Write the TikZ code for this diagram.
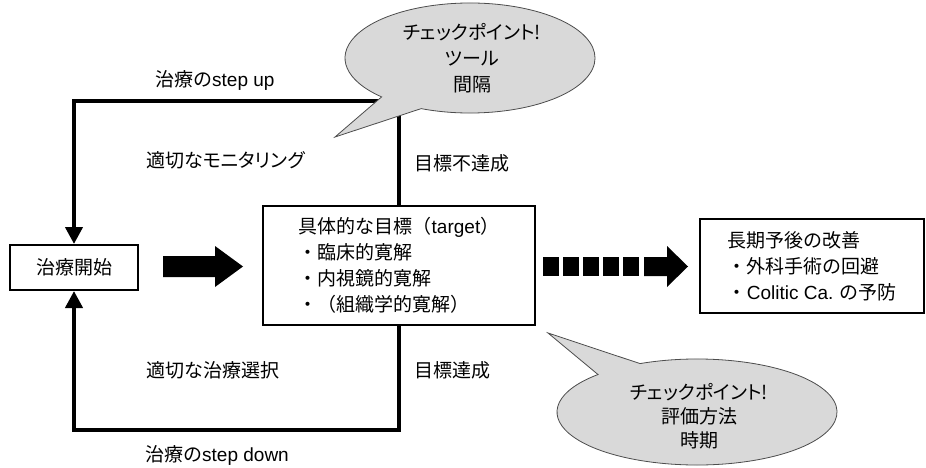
\documentclass[tikz,border=0pt]{standalone}
\usepackage{fontspec}
\setmainfont{Noto Sans CJK JP}
\newfontfamily\lat{Liberation Sans}
\newfontfamily\jpp[RawFeature=+palt]{Noto Sans CJK JP}
\usetikzlibrary{arrows.meta}
\definecolor{bubblefill}{HTML}{D9D9D9}
\definecolor{bubbleline}{HTML}{4D4D4D}
\begin{document}
\begin{tikzpicture}[x=1pt,y=1pt,
  txt/.style={font=\fontsize{19}{26}\selectfont, inner sep=0pt},
  ptxt/.style={font=\jpp\fontsize{19}{26}\selectfont, inner sep=0pt},
  box/.style={draw, line width=1.5pt, txt, align=left},
  loopline/.style={line width=4pt, -{Triangle[length=17pt,width=17pt]}},
  bubble/.style={fill=bubblefill, draw=bubbleline, line width=0.8pt},
  bigarrow/.style={fill=black},
]
\useasboundingbox (0,0) rectangle (926,-468);

% boxes
\node[box, line width=2pt, minimum width=128pt, minimum height=45pt, align=center] (start) at (74,-267.5) {治療開始};
\node[box, minimum width=272pt, minimum height=119pt] (target) at (399,-265.5)
  {具体的な目標（{\lat target}）\\・臨床的寛解\\・内視鏡的寛解\\・（組織学的寛解）};
\node[box, minimum width=224pt, minimum height=94pt] (goal) at (812,-266)
  {長期予後の改善\\・外科手術の回避\\・{\lat Colitic Ca.} の予防};

% labels
\node[txt, anchor=west] (stepup) at (155,-80) {治療の{\lat step up}};
\node[ptxt, anchor=west] (monitor) at (146,-160) {適切なモニタリング};
\node[txt, anchor=west] (notmet) at (414,-163) {目標不達成};
\node[txt, anchor=west] (select) at (146,-370) {適切な治療選択};
\node[txt, anchor=west] (met) at (414,-370) {目標達成};
\node[txt, anchor=west] (stepdown) at (145,-455) {治療の{\lat step down}};

% loops
\coordinate (topline) at (0,-101);
\coordinate (botline) at (0,-430);
\draw[loopline] (target.north) -- (target.north |- topline) -| (start.north);
\draw[loopline] (target.south) -- (target.south |- botline) -| (start.south);

% solid big arrow
\fill[bigarrow] (163,-256) -- (215,-256) -- (215,-246) -- (243,-266.5) -- (215,-287) -- (215,-277) -- (163,-277) -- cycle;

% dashed big arrow
\foreach \x in {543,563,583,603,623} \fill[bigarrow] (\x,-257) rectangle ++(16,-19);
\fill[bigarrow] (644,-257) -- (667,-257) -- (667,-246) -- (688,-266.5) -- (667,-287) -- (667,-276) -- (644,-276) -- cycle;

% top bubble
\coordinate (c1) at (470,-58);
\fill[bubblefill] (c1) ellipse[x radius=125pt, y radius=55pt];
\draw[bubble] (c1) ++(247:125pt and 55pt) arc[start angle=247, end angle=585, x radius=125pt, y radius=55pt] -- (335,-137) -- cycle;
\node[ptxt, align=center] (cp1) at (472,-58) {チェックポイント!\\ツール\\間隔};

% bottom bubble
\coordinate (c2) at (697,-412);
\fill[bubblefill] (c2) ellipse[x radius=140pt, y radius=53pt];
\draw[bubble] (c2) ++(114:140pt and 53pt) arc[start angle=114, end angle=-225, x radius=140pt, y radius=53pt] -- (548,-333) -- cycle;
\node[ptxt, align=center, font=\jpp\fontsize{19}{24}\selectfont] (cp2) at (699,-416) {チェックポイント!\\評価方法\\時期};
\end{tikzpicture}
\end{document}
